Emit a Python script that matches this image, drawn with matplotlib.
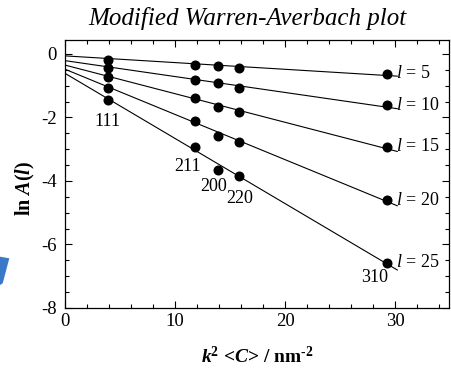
import numpy as np
import matplotlib
matplotlib.use("Agg")
import matplotlib.pyplot as plt
from matplotlib.patches import Polygon
from matplotlib.ticker import MultipleLocator

plt.rcParams['font.family'] = ['Liberation Serif', 'DejaVu Serif']
plt.rcParams['mathtext.fontset'] = 'custom'
plt.rcParams['mathtext.rm'] = 'Liberation Serif'
plt.rcParams['mathtext.it'] = 'Liberation Serif:italic'
plt.rcParams['mathtext.bf'] = 'Liberation Serif:bold'
plt.rcParams['mathtext.bfit'] = 'Liberation Serif:italic:bold'
plt.rcParams['axes.unicode_minus'] = False

# data
k2C = [3.9, 11.82, 13.88, 15.85, 29.3]
reflections = ['111', '211', '200', '220', '310']
l_values = [5, 10, 15, 20, 25]
lnA_l5 = [-0.19, -0.35, -0.37, -0.43, -0.63]
lnA_l10 = [-0.43, -0.82, -0.92, -1.08, -1.62]
lnA_l15 = [-0.73, -1.40, -1.68, -1.84, -2.92]
lnA_l20 = [-1.06, -2.11, -2.58, -2.76, -4.60]
lnA_l25 = [-1.45, -2.94, -3.65, -3.84, -6.57]
series = [lnA_l5, lnA_l10, lnA_l15, lnA_l20, lnA_l25]
fit_intercepts = [-0.06, -0.21, -0.35, -0.48, -0.61]
fit_x_end = 30.2
refl_label_x = [3.9, 11.1, 13.5, 15.9, 28.1]
refl_label_y = [-2.14, -3.55, -4.18, -4.54, -7.05]

fig = plt.figure(figsize=(4.51, 3.69), dpi=100)
ax = fig.add_axes([65/451, 1-308/369, (449-65)/451, (308-40)/369])

for l, y, b in zip(l_values, series, fit_intercepts):
    x = np.array(k2C)
    yy = np.array(y)
    # least-squares slope with the read intercept
    slope = np.sum(x*(yy-b))/np.sum(x*x)
    xf = np.array([0, fit_x_end])
    ax.plot(xf, b + slope*xf, color='black', lw=0.8, zorder=2)
    ax.plot(k2C, y, 'o', color='black', ms=6.2, zorder=3)
    ax.text(fit_x_end - 0.1, y[-1], r'$l$ = %d' % l, ha='left', va='center', fontsize=13)

for t, xl, yl in zip(reflections, refl_label_x, refl_label_y):
    ax.text(xl, yl, t, ha='center', va='center', fontsize=13)

ax.set_xlim(0, 34.9)
ax.set_ylim(-8, 0.44)
ax.xaxis.set_major_locator(MultipleLocator(10))
ax.xaxis.set_minor_locator(MultipleLocator(2))
ax.yaxis.set_major_locator(MultipleLocator(2))
ax.yaxis.set_minor_locator(MultipleLocator(0.5))
ax.tick_params(which='both', direction='in', top=True, right=True, width=0.8)
ax.tick_params(which='major', length=5)
ax.tick_params(which='minor', length=3)
ax.tick_params(axis='x', labelsize=13.5, pad=3.5)
ax.tick_params(axis='y', labelsize=13.5, pad=6)
for s in ax.spines.values():
    s.set_linewidth(0.9)

fig.text(247/451, 1-18/369, 'Modified Warren-Averbach plot', ha='center', va='center',
         fontsize=18, style='italic')
fig.text(25/451, 1-188/369, r'ln $\mathbfit{A}$($\mathbfit{l}$)', rotation=90,
         ha='center', va='center', fontsize=14.5, weight='bold')
fig.text(257/451, 12/369, r'$\mathbfit{k}^{\mathbf{2}}$ <$\mathbfit{C}$> / nm$^{\text{-}\mathbf{2}}$',
         ha='center', va='center', fontsize=14, weight='bold')

poly_px = [(0, 256.7), (9.3, 258.3), (2.7, 283.3), (0, 285)]
poly = Polygon([(px/451, 1-py/369) for px, py in poly_px], closed=True,
               transform=fig.transFigure, facecolor='#3a78c8', edgecolor='none')
fig.patches.append(poly)

fig.savefig('out.png', dpi=100)
